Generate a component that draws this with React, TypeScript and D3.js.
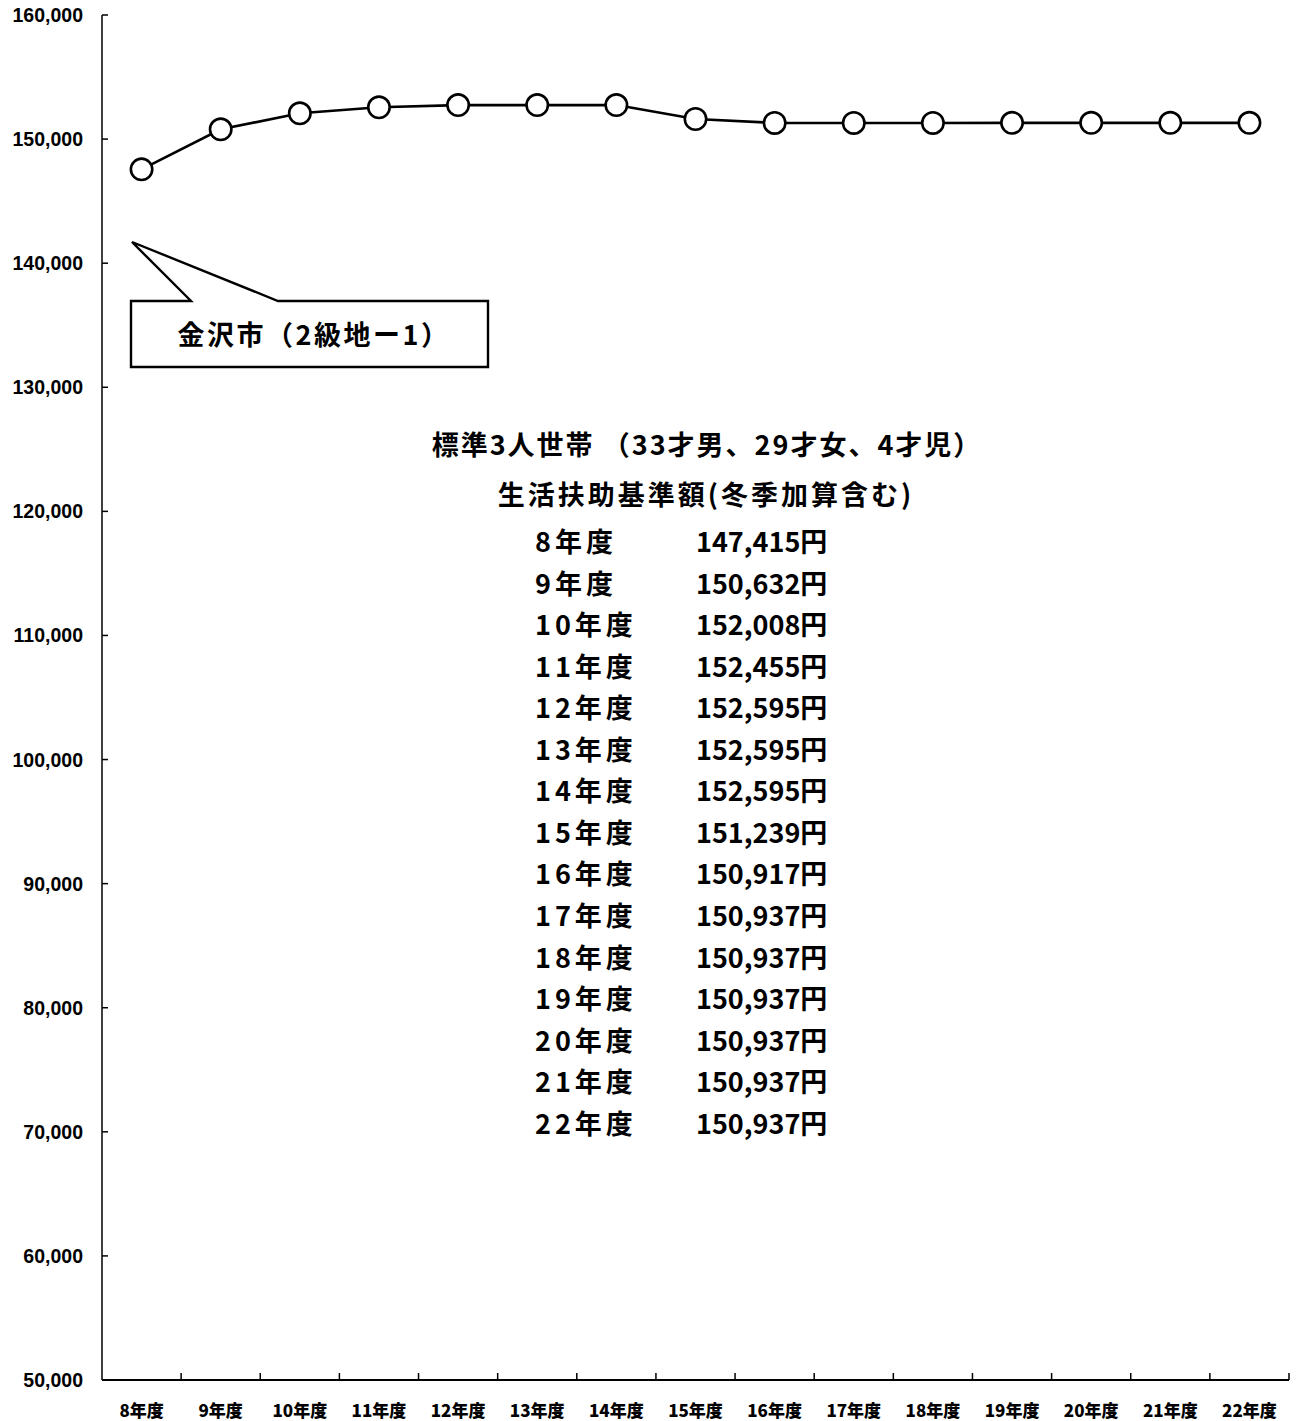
import React from "react";
import * as d3 from "d3";

const years = ["8年度","9年度","10年度","11年度","12年度","13年度","14年度","15年度","16年度","17年度","18年度","19年度","20年度","21年度","22年度"];
// amounts printed in the table (円)
const tableAmounts = [147415,150632,152008,152455,152595,152595,152595,151239,150917,150937,150937,150937,150937,150937,150937];
// amounts as plotted by the line
const plotted = [147560,150790,152080,152560,152740,152740,152740,151620,151300,151300,151300,151310,151310,151310,151310];
const yTicks = [50000,60000,70000,80000,90000,100000,110000,120000,130000,140000,150000,160000];
const calloutLabel = "金沢市（2級地ー1）";
const titleLine1 = "標準3人世帯 （33才男、29才女、4才児）";
const titleLine2 = "生活扶助基準額(冬季加算含む)";

const W = 1296, H = 1421;
const left = 102, right = 1289, top = 15, bottom = 1380;
const CJK = "'Noto Sans CJK JP', 'Noto Sans', sans-serif";
const LAT = "'Liberation Sans', Arial, sans-serif";

export default function App() {
  const x = d3.scaleBand<string>().domain(years).range([left, right]);
  const y = d3.scaleLinear().domain([50000, 160000]).range([bottom, top]);
  const cx = (d: string) => (x(d) as number) + x.bandwidth() / 2;
  const line = d3.line<number>().x((_, i) => cx(years[i])).y((v) => y(v));
  const fmt = d3.format(",");

  const boundaries = years.map((d) => (x(d) as number) + x.bandwidth());

  // callout geometry
  const bx0 = 131, bx1 = 488, by0 = 301, by1 = 367;
  const tip: [number, number] = [132, 242];
  const callout = `M${bx0},${by0} L191,${by0} L${tip[0]},${tip[1]} L278,${by0} L${bx1},${by0} L${bx1},${by1} L${bx0},${by1} Z`;

  const rowY0 = 552, rowStep = 41.55;

  return (
    <svg width={W} height={H} style={{ position: "absolute", left: 0, top: 0, background: "#fff" }}>
      <rect x={0} y={0} width={W} height={H} fill="#fff" />
      {/* y axis */}
      <line x1={left} x2={left} y1={top} y2={bottom} stroke="#000" strokeWidth={1.5} />
      {yTicks.map((t) => (
        <g key={t}>
          <line x1={left} x2={left + 6} y1={y(t)} y2={y(t)} stroke="#000" strokeWidth={1.5} />
          <text x={83} y={y(t)} dy="0.36em" textAnchor="end" fontFamily={LAT} fontWeight={700} fontSize={19.5}>
            {fmt(t)}
          </text>
        </g>
      ))}
      {/* x axis */}
      <line x1={left} x2={right} y1={bottom} y2={bottom} stroke="#000" strokeWidth={2} />
      {boundaries.map((b, i) => (
        <line key={i} x1={b} x2={b} y1={bottom} y2={bottom - 7} stroke="#000" strokeWidth={1.5} />
      ))}
      {years.map((d) => (
        <text key={d} x={cx(d)} y={1417} textAnchor="middle" fontFamily={CJK} fontWeight={900} fontSize={17}>
          {d}
        </text>
      ))}
      {/* series */}
      <path d={line(plotted) as string} fill="none" stroke="#000" strokeWidth={2.6} />
      {plotted.map((v, i) => (
        <circle key={i} cx={cx(years[i])} cy={y(v)} r={10.7} fill="#fff" stroke="#000" strokeWidth={2.6} />
      ))}
      {/* callout */}
      <path d={callout} fill="#fff" stroke="#000" strokeWidth={2.4} strokeLinejoin="miter" />
      <text x={314} y={345} textAnchor="middle" fontFamily={CJK} fontWeight={700} fontSize={27} letterSpacing={2.5}>
        {calloutLabel}
      </text>
      {/* titles */}
      <text x={707} y={455} textAnchor="middle" fontFamily={CJK} fontWeight={700} fontSize={27} letterSpacing={2}>
        {titleLine1}
      </text>
      <text x={706} y={505} textAnchor="middle" fontFamily={CJK} fontWeight={700} fontSize={27} letterSpacing={3}>
        {titleLine2}
      </text>
      {years.map((d, i) => (
        <g key={d}>
          <text x={535} y={rowY0 + i * rowStep} fontFamily={CJK} fontWeight={700} fontSize={27} letterSpacing={4}>
            {d}
          </text>
          <text x={696} y={rowY0 + i * rowStep} fontFamily={CJK} fontWeight={700} fontSize={27}>
            {fmt(tableAmounts[i]) + "円"}
          </text>
        </g>
      ))}
    </svg>
  );
}
